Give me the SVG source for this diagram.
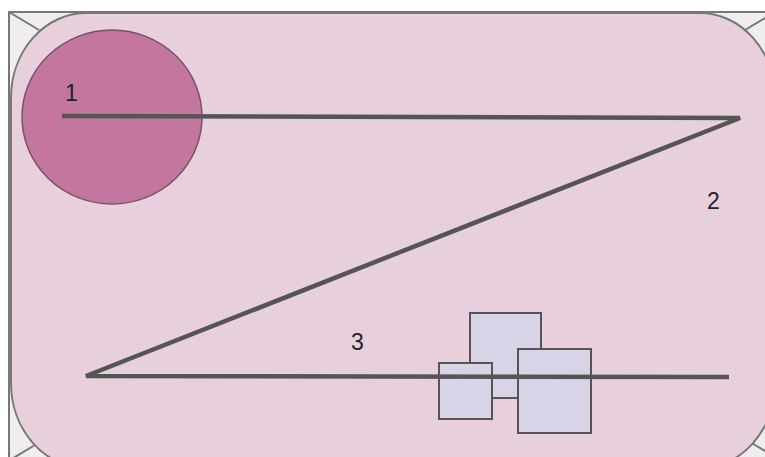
<svg xmlns="http://www.w3.org/2000/svg" width="765" height="457" viewBox="0 0 765 457">
<style>
.frame{fill:#efeded;stroke:#777;stroke-width:2}
.diag{stroke:#777;stroke-width:2;fill:none}
.panel{fill:#e8cfdc;stroke:#777;stroke-width:2}
.box{fill:#d8d3e7;stroke:#555;stroke-width:2}
.lbl{font-family:"Liberation Sans",Arial,sans-serif;font-size:23px;fill:#222}
.conn{fill:none;stroke:#555;stroke-width:4.5;stroke-linejoin:miter}
</style>
<rect width="765" height="457" fill="#ffffff"/>
<g id="background">
<rect class="frame" x="9" y="12" width="800" height="480"/>
<path class="diag" d="M9 12 L39 30 M745 30 L775 12 M35 445 L5 463 M750 442 L775 457"/>
<path class="panel" d="M86 13 L700 13 A75 85 0 0 1 775 98 L775 383 A75 85 0 0 1 700 468 L86 468 A75 85 0 0 1 11 383 L11 98 A75 85 0 0 1 86 13 Z"/>
</g>
<g id="node-1">
<ellipse cx="112" cy="117" rx="90" ry="87" fill="#c4779e" stroke="#7d4f68" stroke-width="1.5"/>
<text class="lbl" x="65" y="101">1</text>
</g>
<g id="node-2">
<text class="lbl" x="707" y="209">2</text>
</g>
<g id="node-3">
<text class="lbl" x="351" y="350">3</text>
</g>
<g id="boxes">
<rect id="box-a" class="box" x="470" y="313" width="71" height="85"/>
<rect id="box-b" class="box" x="439" y="363" width="53" height="56"/>
<rect id="box-c" class="box" x="518" y="349" width="73" height="84"/>
</g>
<g id="connectors">
<path class="conn" d="M62 116 L740 118 L86 376 L729 377"/>
</g>
</svg>
